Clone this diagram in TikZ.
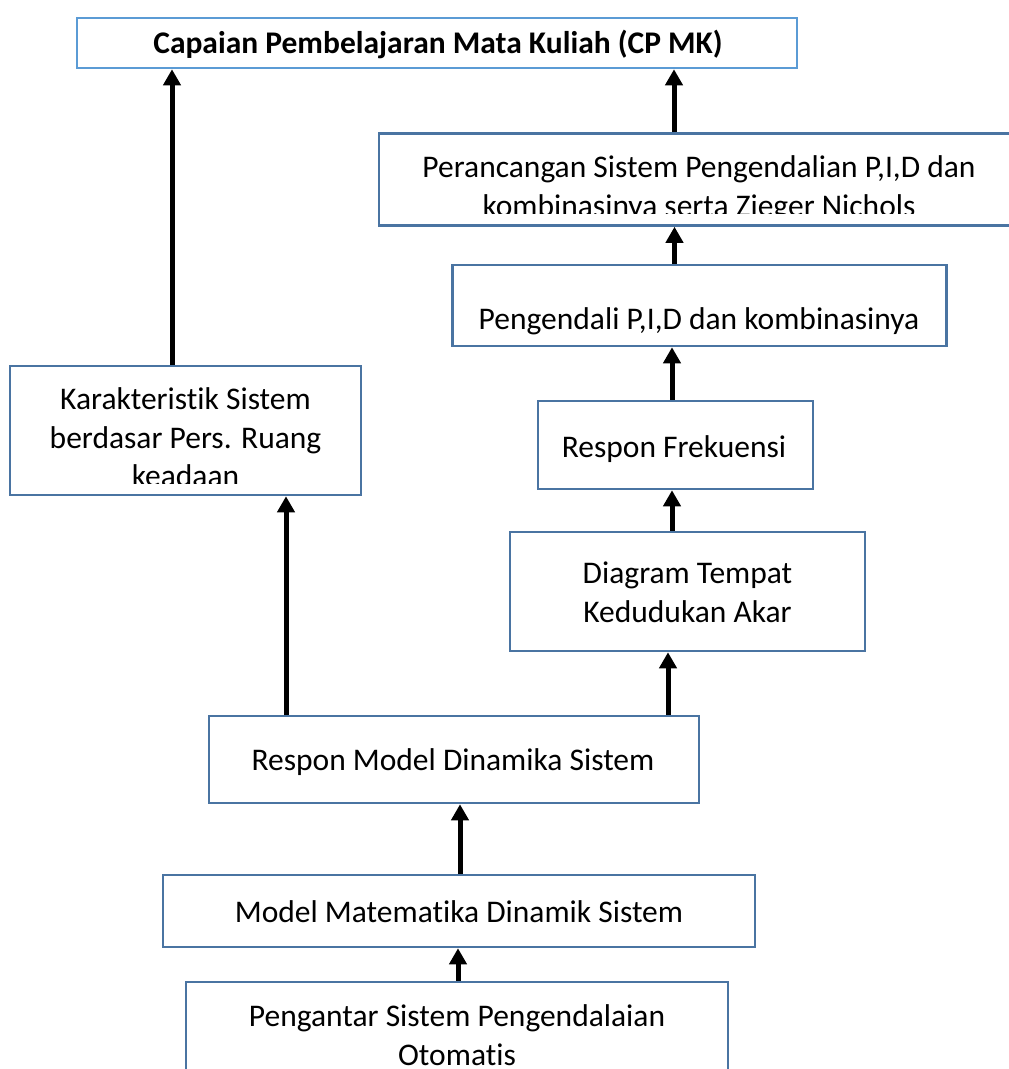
\documentclass[tikz,border=0pt]{standalone}
\usepackage{fontspec}
\setmainfont{Carlito}[RawFeature={-liga}]
\usetikzlibrary{arrows.meta}
\definecolor{lightblue}{HTML}{5B9BD5}
\definecolor{darkblue}{HTML}{4A74A2}
\tikzset{
  box/.style={draw=darkblue, line width=2.5pt, fill=white, minimum width=#1, inner sep=0pt},
  txt/.style={align=center, font=\fontsize{31.5}{38.5}\selectfont, inner sep=0pt},
  arr/.style={line width=5pt, -{Triangle[width=17pt,length=16pt]}}
}
\begin{document}
\begin{tikzpicture}[x=1pt,y=-1pt]
\useasboundingbox (0,0) rectangle (1009,1069);
\clip (0,0) rectangle (1009,1069);
% boxes
\node[box=720pt, draw=lightblue, minimum height=50pt] (top) at (437,43) {};
\node[box=642pt, minimum height=92pt] (per) at (700,179.5) {};
\node[box=494pt, minimum height=81pt] (pen) at (699.5,305.5) {};
\node[box=275pt, minimum height=88pt] (rf) at (675.5,445) {};
\node[box=355pt, minimum height=119pt] (dia) at (687.5,591.5) {};
\node[box=351pt, minimum height=129pt] (kar) at (185.5,430.5) {};
\node[box=490pt, minimum height=87pt] (rm) at (454,759.5) {};
\node[box=592pt, minimum height=72pt] (mm) at (459,911) {};
\node[box=542pt, minimum height=130pt] (pg) at (457,1047) {};
% texts
\node[txt, font=\fontsize{31.5}{38.5}\selectfont\bfseries] (ttop) at (438,44) {Capaian Pembelajaran Mata Kuliah (CP MK)};
\begin{scope}
\clip (380,135) rectangle (1009,213);
\node[txt, anchor=north] (tper) at (699,155.5) {Perancangan Sistem Pengendalian P,I,D dan\\kombinasinya serta Zieger Nichols};
\end{scope}
\node[txt] (tpen) at (699,321) {Pengendali P,I,D dan kombinasinya};
\node[txt] (trf) at (674,449) {Respon Frekuensi};
\node[txt] (tdia) at (687.5,592.5) {Diagram Tempat\\Kedudukan Akar};
\begin{scope}
\clip (11,367) rectangle (360,483);
\node[txt, anchor=north] (tkar) at (185.5,387.5) {Karakteristik Sistem\\berdasar Pers. Ruang\\keadaan};
\end{scope}
\node[txt] (trm) at (453,762) {Respon Model Dinamika Sistem};
\node[txt] (tmm) at (459,912) {Model Matematika Dinamik Sistem};
\node[txt, anchor=north] (tpg) at (457,1004.5) {Pengantar Sistem Pengendalaian\\Otomatis};
% arrows
\draw[arr] ([xshift=-13.5pt]kar.north) -- ([xshift=-13.5pt]kar.north |- top.south);
\draw[arr] ([xshift=-26pt]per.north) -- ([xshift=-26pt]per.north |- top.south);
\draw[arr] ([xshift=-25pt]pen.north) -- ([xshift=-25pt]pen.north |- per.south);
\draw[arr] ([xshift=-3.5pt]rf.north) -- ([xshift=-3.5pt]rf.north |- pen.south);
\draw[arr] ([xshift=-15.5pt]dia.north) -- ([xshift=-15.5pt]dia.north |- rf.south);
\draw[arr] ([xshift=214pt]rm.north) -- ([xshift=214pt]rm.north |- dia.south);
\draw[arr] ([xshift=-168pt]rm.north) -- ([xshift=-168pt]rm.north |- kar.south);
\draw[arr] ([xshift=1pt]mm.north) -- ([xshift=1pt]mm.north |- rm.south);
\draw[arr] ([xshift=1pt]pg.north) -- ([xshift=1pt]pg.north |- mm.south);
\end{tikzpicture}
\end{document}
